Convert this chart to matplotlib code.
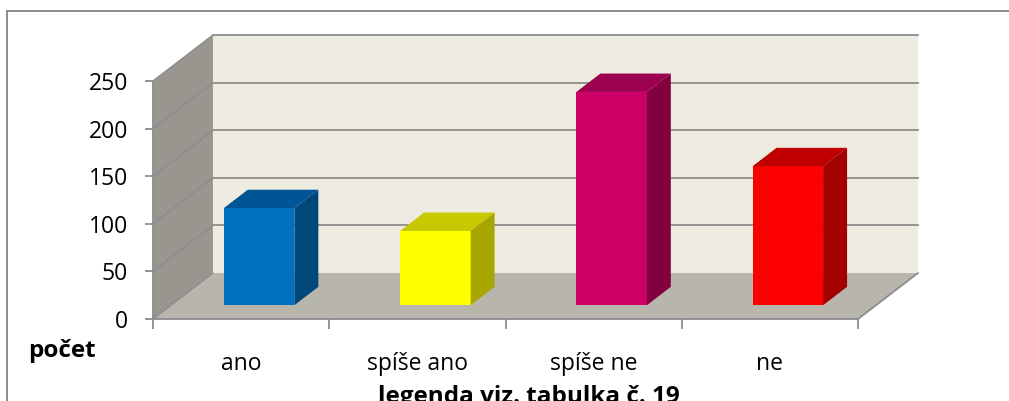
"""
3D-look column chart (Excel style): answers counted per category.
"""
import matplotlib
matplotlib.use("Agg")
import matplotlib.pyplot as plt
from matplotlib.patches import Polygon, Rectangle

categories = ["ano", "spíše ano", "spíše ne", "ne"]
counts = [102, 78, 224, 146]
front_colors = ["#0070C0", "#FFFF00", "#CC0066", "#FF0000"]
top_colors = ["#005596", "#C8C800", "#9E0050", "#C00000"]
side_colors = ["#00477A", "#A8A600", "#82003F", "#A30000"]
y_ticks = [0, 50, 100, 150, 200, 250]

FONT = ["Open Sans", "DejaVu Sans"]
GRID = "#8C8C8C"
Y_MAX = 250
DEPTH = (0.34, 48.3)       # oblique offset of the back wall, in data units
BAR_D0, BAR_D1 = 0.30, 0.70
BAR_W = 0.40

plt.rcParams["font.family"] = FONT

W, H = 1009, 401
fig = plt.figure(figsize=(W / 100, H / 100), dpi=100)
fig.patches.append(Rectangle((7 / W, -0.1), 1.2, (H - 11) / H + 0.1,
                             transform=fig.transFigure, fill=False,
                             edgecolor="#8A8A8A", lw=1.4))

ax = fig.add_axes([153 / W, 82 / H, 705 / W, 238 / H])
n = len(categories)
ax.set_xlim(0, n)
ax.set_ylim(0, Y_MAX)
ax.patch.set_visible(False)
for s in ["top", "right"]:
    ax.spines[s].set_visible(False)
for s in ["left", "bottom"]:
    ax.spines[s].set_color(GRID)
    ax.spines[s].set_linewidth(1.3)

dx, dy = DEPTH


def poly(pts, fc, z, ec="none", lw=0):
    ax.add_patch(Polygon(pts, closed=True, facecolor=fc, edgecolor=ec,
                         lw=lw, zorder=z, clip_on=False))


# walls and floor
poly([(0, 0), (0, Y_MAX), (dx, Y_MAX + dy), (dx, dy)], "#98968F", 0)
poly([(dx, dy), (n + dx, dy), (n + dx, Y_MAX + dy), (dx, Y_MAX + dy)], "#EEECE1", 0)
poly([(0, 0), (n, 0), (n + dx, dy), (dx, dy)], "#B8B5AD", 0)
ax.plot([n, n + dx], [0, dy], color=GRID, lw=1.3, clip_on=False, zorder=1)
ax.plot([0, dx], [0, dy], color=GRID, lw=1.0, clip_on=False, zorder=1)

for v in y_ticks[1:]:
    ax.plot([dx, n + dx], [v + dy, v + dy], color=GRID, lw=1.3, clip_on=False, zorder=1)
    ax.plot([0, dx], [v, v + dy], color=GRID, lw=1.0, clip_on=False, zorder=1)

# bars
for i, v in enumerate(counts):
    x0 = i + 0.5 - BAR_W / 2 + BAR_D0 * dx
    y0 = BAR_D0 * dy
    ddx = (BAR_D1 - BAR_D0) * dx
    ddy = (BAR_D1 - BAR_D0) * dy
    x1 = x0 + BAR_W
    y1 = y0 + v
    poly([(x0, y0), (x1, y0), (x1, y1), (x0, y1)], front_colors[i], 3)
    poly([(x0, y1), (x1, y1), (x1 + ddx, y1 + ddy), (x0 + ddx, y1 + ddy)], top_colors[i], 3)
    poly([(x1, y0), (x1 + ddx, y0 + ddy), (x1 + ddx, y1 + ddy), (x1, y1)], side_colors[i], 3)

# axes ticks and labels
ax.set_yticks(y_ticks)
ax.tick_params(axis="y", length=6, width=1.3, color=GRID, labelsize=16.5, pad=12)
ax.set_xticks(range(n + 1))
ax.set_xticklabels([])
ax.tick_params(axis="x", length=7, width=1.3, color=GRID)
ax.set_xticks([i + 0.5 for i in range(n)], minor=True)
ax.set_xticklabels(categories, minor=True, fontsize=16.5)
ax.tick_params(axis="x", which="minor", length=0, pad=24)

fig.text(28 / W, 1 - 351 / H, "počet", fontsize=17.5, fontweight="bold",
         ha="left", va="center")
fig.text(529 / W, 1 - 397 / H, "legenda viz. tabulka č. 19", fontsize=17.5,
         fontweight="bold", ha="center", va="center")

fig.savefig("out.png", dpi=100)
